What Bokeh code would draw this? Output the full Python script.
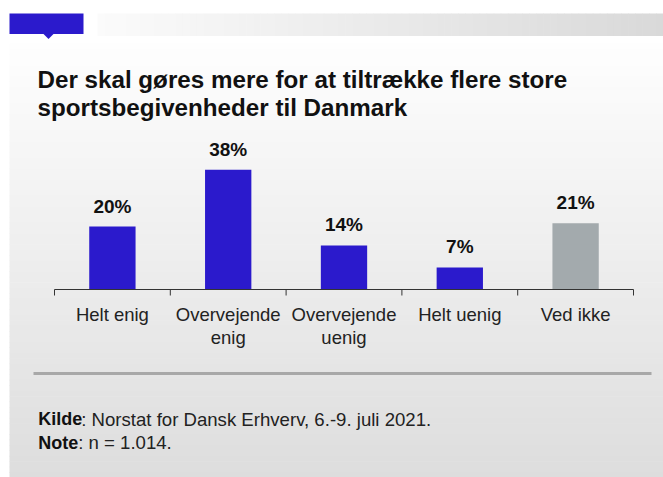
from bokeh.plotting import figure
from bokeh.models import Range1d, ColumnDataSource, LabelSet
from bokeh.core.properties import value
from bokeh.embed import file_html
from bokeh.resources import INLINE

# ---- data ----
categories = ["Helt enig", "Overvejende\nenig", "Overvejende\nuenig", "Helt uenig", "Ved ikke"]
values = [20, 38, 14, 7, 21]
value_labels = ["20%", "38%", "14%", "7%", "21%"]
bar_colors = ["#2b1acc", "#2b1acc", "#2b1acc", "#2b1acc", "#a3aaad"]
title_lines = ["Der skal gøres mere for at tiltrække flere store",
               "sportsbegivenheder til Danmark"]
footer_bold = ["Kilde", "Note"]
footer_text = [": Norstat for Dansk Erhverv, 6.-9. juli 2021.", ": n = 1.014."]

# ---- layout (canvas pixels, y downwards) ----
W, H = 663, 477
AX_L, AX_R, AX_Y = 54, 633, 289      # axis extent and baseline
PX_PER_PCT = 3.15
FONT = "Liberation Sans"
n = len(categories)
u = (AX_R - AX_L) / n

p = figure(width=W, height=H, x_range=Range1d(0, W), y_range=Range1d(H, 0),
           output_backend="svg", toolbar_location=None,
           min_border=0, x_axis_type=None, y_axis_type=None)
p.grid.visible = False
p.outline_line_color = None
p.background_fill_color = "white"
p.border_fill_color = "white"
p.extra_x_ranges = {"cat": Range1d(-AX_L / u, n + (W - AX_R) / u)}
p.extra_y_ranges = {"val": Range1d(-(H - AX_Y) / PX_PER_PCT, AX_Y / PX_PER_PCT)}


def grey(c0, c1, t):
    v = round(c0 + (c1 - c0) * t)
    return "#%02x%02x%02x" % (v, v, v)


# main panel vertical gradient
py0, py1, steps = 43, 477, 80
qt, qb, qc = [], [], []
for i in range(steps):
    qt.append(py0 + (py1 - py0) * i / steps)
    qb.append(py0 + (py1 - py0) * (i + 1) / steps + 0.6)
    qc.append(grey(254, 221, (i + 0.5) / steps))
p.quad(left=9, right=W, top=qt, bottom=qb, fill_color=qc, line_color=None)

# top strip horizontal gradient
sx0, sx1, steps = 97, 663, 80
ql, qr, qc = [], [], []
for i in range(steps):
    ql.append(sx0 + (sx1 - sx0) * i / steps)
    qr.append(sx0 + (sx1 - sx0) * (i + 1) / steps + 0.6)
    qc.append(grey(251, 217, (i + 0.5) / steps))
p.quad(left=ql, right=qr, top=13, bottom=35.5, fill_color=qc, line_color=None)

# blue tab with notch
p.quad(left=[9], right=[83], top=[13], bottom=[33.5], fill_color="#2b1acc", line_color=None)
p.patch(x=[43, 53, 48], y=[33.4, 33.4, 38.5], fill_color="#2b1acc", line_color=None)

# separator line
p.quad(left=[33], right=[651], top=[371.5], bottom=[374.5], fill_color="#a8a8a8", line_color=None)

# ---- bars ----
xs = [i + 0.5 for i in range(n)]
line1 = [c.split("\n")[0] for c in categories]
line2 = [c.split("\n")[1] if "\n" in c else "" for c in categories]
src = ColumnDataSource(dict(x=xs, top=values, color=bar_colors, lab=value_labels,
                            l1=line1, l2=line2))
p.vbar(x="x", top="top", bottom=0, width=0.4, fill_color="color", line_color=None,
       source=src, x_range_name="cat", y_range_name="val")

p.add_layout(LabelSet(x="x", y="top", text="lab", source=src, y_offset=14,
                      x_range_name="cat", y_range_name="val",
                      text_align="center", text_baseline="alphabetic",
                      text_font=value(FONT), text_font_style="bold", text_font_size="19px",
                      text_color="#111111"))

# ---- category axis ----
edges = list(range(n + 1))
p.segment(x0=[0], x1=[n], y0=[0], y1=[0], line_color="#333333", line_width=1,
          x_range_name="cat", y_range_name="val")
p.segment(x0=edges, x1=edges, y0=[0] * len(edges), y1=[-6 / PX_PER_PCT] * len(edges),
          line_color="#333333", line_width=1, x_range_name="cat", y_range_name="val")
for col, off in (("l1", -31.5), ("l2", -54.5)):
    p.add_layout(LabelSet(x="x", y=0, text=col, source=src, y_offset=off,
                          x_range_name="cat", y_range_name="val",
                          text_align="center", text_baseline="alphabetic",
                          text_font=value(FONT), text_font_size="18.5px",
                          text_color="#222222"))

# ---- title ----
p.text(x=[37, 37], y=[79, 107], text=title_lines, text_baseline="alphabetic",
       text_align="left", text_font=value(FONT), text_font_style="bold",
       text_font_size="24.2px", text_color="#111111")

# ---- footer ----
fy = [418.7, 442]
p.text(x=[37.7, 37.7], y=fy, text=footer_bold, text_baseline="alphabetic",
       text_font=value(FONT), text_font_style="bold", text_font_size="18px",
       text_color="#111111")
p.text(x=[37.7 + 43, 37.7 + 40], y=fy, text=footer_text, text_baseline="alphabetic",
       text_font=value(FONT), text_font_size="18.6px", text_color="#222222")

open("out.html", "w").write(file_html(p, INLINE))
